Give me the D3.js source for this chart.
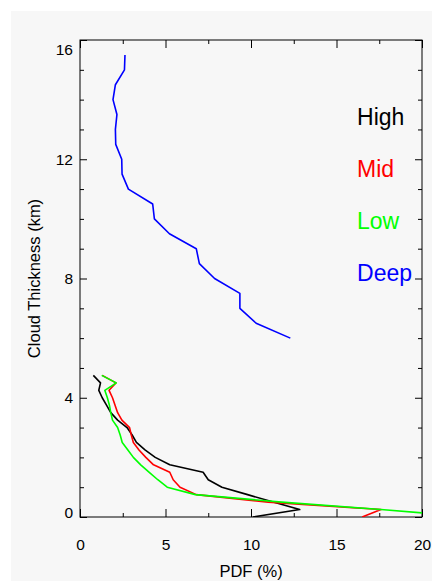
<!DOCTYPE html>
<html>
<head>
<meta charset="utf-8">
<script src="https://cdn.jsdelivr.net/npm/d3@7"></script>
<style>
  body { margin: 0; background: #fff; }
  svg text { font-family: "Liberation Sans", Arial, sans-serif; }
</style>
</head>
<body>
<div id="chart"></div>
<script>
// thickness levels (km) for the low/mid/high curves, 0.25 km bins
const lowLevels = [0, 0.25, 0.5, 0.75, 1.0, 1.25, 1.5, 1.75, 2.0, 2.25, 2.5, 2.75, 3.0, 3.25, 3.5, 3.75, 4.0, 4.25, 4.5, 4.75];
// PDF (%)
const highPdf = [10.1, 12.85, 11.3, 9.8, 8.3, 7.5, 7.2, 5.25, 4.4, 3.8, 3.3, 3.05, 2.75, 2.2, 1.8, 1.55, 1.3, 1.1, 1.2, 0.78];
const midPdf  = [16.5, 17.6, 11.0, 6.8, 5.85, 5.45, 5.25, 4.3, 3.85, 3.45, 3.12, 3.0, 2.9, 2.45, 2.2, 2.05, 1.9, 1.7, 2.1, 1.3];
const lowPdf  = [23.0, 17.6, 11.8, 6.75, 5.1, 4.55, 4.05, 3.55, 3.12, 2.8, 2.47, 2.35, 2.2, 1.9, 1.8, 1.72, 1.6, 1.45, 2.12, 1.27];

// deep clouds, 0.5 km bins
const deepLevels = [6.0, 6.5, 7.0, 7.5, 8.0, 8.5, 9.0, 9.5, 10.0, 10.5, 11.0, 11.5, 12.0, 12.5, 13.0, 13.5, 14.0, 14.5, 15.0, 15.5];
const deepPdf    = [12.3, 10.3, 9.35, 9.35, 7.87, 6.98, 6.8, 5.23, 4.35, 4.25, 2.83, 2.46, 2.44, 2.09, 2.07, 2.16, 1.93, 2.07, 2.6, 2.63];

const seriesNames = ["High", "Mid", "Low", "Deep"];
const seriesColors = ["#000000", "#ff0000", "#00ff00", "#0000ff"];

const xMajor = [0, 5, 10, 15, 20];
const xMinor = [2.5, 7.5, 12.5, 17.5];
const yMajor = [0, 4, 8, 12, 16];
const yMinor = [1, 2, 3, 5, 6, 7, 9, 10, 11, 13, 14, 15];

// plot box in pixels
const W = 432, H = 581;
const box = { left: 80, right: 422, top: 40, bottom: 517 };

const svg = d3.select("#chart").append("svg").attr("width", W).attr("height", H);

// grey panel like the original figure
svg.append("rect").attr("x", 11).attr("y", 11).attr("width", W - 11).attr("height", H - 11).attr("fill", "#f7f7f7");

const x = d3.scaleLinear().domain([0, 20]).range([box.left, box.right]);
const y = d3.scaleLinear().domain([0, 16]).range([box.bottom, box.top]);

svg.append("clipPath").attr("id", "clip")
  .append("rect").attr("x", box.left).attr("y", box.top)
  .attr("width", box.right - box.left).attr("height", box.bottom - box.top);

// ticks point inwards on all four sides, majors longer
function ticks(axisFn, at, vals, size, labels) {
  const a = axisFn.tickValues(vals).tickSizeInner(-size).tickSizeOuter(0);
  if (!labels) a.tickFormat("");
  const gg = svg.append("g").attr("transform", at).call(a);
  gg.select(".domain").remove();
  gg.selectAll("line").attr("stroke", "#000");
  return gg;
}

const gxb = ticks(d3.axisBottom(x).tickPadding(22), `translate(0,${box.bottom})`, xMajor, 8, true);
ticks(d3.axisBottom(x), `translate(0,${box.bottom})`, xMinor, 4, false);
ticks(d3.axisTop(x), `translate(0,${box.top})`, xMajor, 8, false);
ticks(d3.axisTop(x), `translate(0,${box.top})`, xMinor, 4, false);

const gyl = ticks(d3.axisLeft(y).tickPadding(7), `translate(${box.left},0)`, yMajor, 7, true);
ticks(d3.axisLeft(y), `translate(${box.left},0)`, yMinor, 4, false);
ticks(d3.axisRight(y), `translate(${box.right},0)`, yMajor, 7, false);
ticks(d3.axisRight(y), `translate(${box.right},0)`, yMinor, 4, false);

[gxb, gyl].forEach(gg => gg.selectAll("text")
  .attr("font-size", 15.5).attr("fill", "#000")
  .style("font-family", "'Liberation Sans', Arial, sans-serif"));
// end labels on the y axis sit a bit inside the box in the original
gyl.selectAll("text").filter(d => d === 0).attr("dy", "0.0em");
gyl.selectAll("text").filter(d => d === 16).attr("dy", "0.92em");

// frame
svg.append("rect").attr("x", box.left).attr("y", box.top)
  .attr("width", box.right - box.left).attr("height", box.bottom - box.top)
  .attr("fill", "none").attr("stroke", "#000").attr("stroke-width", 1);

// curves
const line = d3.line().x(d => x(d[0])).y(d => y(d[1]));
const curves = [
  d3.zip(highPdf, lowLevels),
  d3.zip(midPdf, lowLevels),
  d3.zip(lowPdf, lowLevels),
  d3.zip(deepPdf, deepLevels)
];
const lines = svg.append("g").attr("clip-path", "url(#clip)");
curves.forEach((c, i) => {
  lines.append("path").datum(c).attr("d", line)
    .attr("fill", "none").attr("stroke", seriesColors[i])
    .attr("stroke-width", 1.6).attr("stroke-linejoin", "round");
});

// labels inside the plot
const legendX = 16.2, legendY = [13.15, 11.4, 9.65, 7.92];
seriesNames.forEach((n, i) => {
  svg.append("text").attr("x", x(legendX)).attr("y", y(legendY[i]))
    .attr("font-size", 23).attr("fill", seriesColors[i]).text(n);
});

// axis titles
svg.append("text").attr("x", (box.left + box.right) / 2).attr("y", 577)
  .attr("text-anchor", "middle").attr("font-size", 16.5).text("PDF (%)");
svg.append("text")
  .attr("transform", `translate(40,${(box.top + box.bottom) / 2}) rotate(-90)`)
  .attr("text-anchor", "middle").attr("font-size", 16.5).text("Cloud Thickness (km)");
</script>
</body>
</html>
